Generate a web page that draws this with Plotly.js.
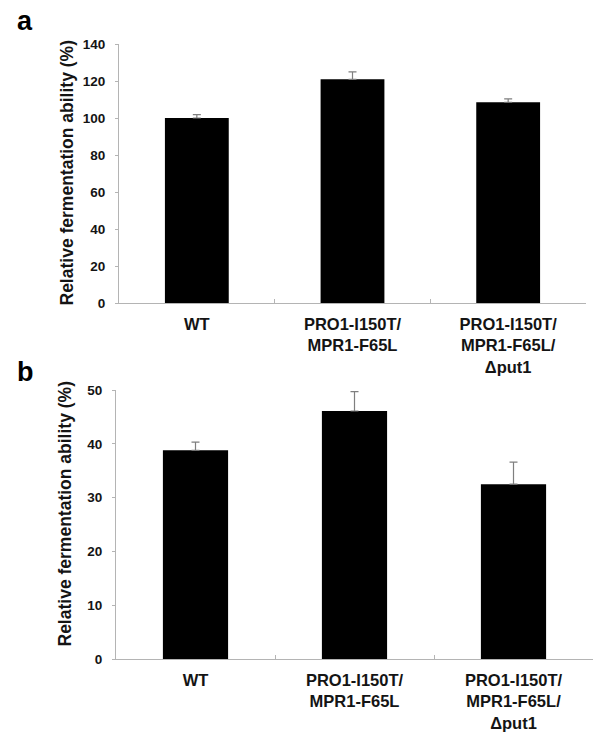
<!DOCTYPE html>
<html>
<head>
<meta charset="utf-8">
<script src="https://cdn.plot.ly/plotly-3.0.1.min.js"></script>
<style>
  html, body { margin: 0; padding: 0; background: #fff; }
  #chart { width: 600px; height: 743px; }
</style>
</head>
<body>
<div id="chart"></div>
<script>
(function () {
  'use strict';

  /* ---------- data ---------- */
  var categories = ['WT', 'PRO1-I150T/<br>MPR1-F65L', 'PRO1-I150T/<br>MPR1-F65L/<br>\u0394put1'];
  var valuesA = [100, 120.9, 108.5];
  var errorsA = [1.8, 4.0, 1.8];
  var valuesB = [38.8, 46.1, 32.5];
  var errorsB = [1.5, 3.6, 4.1];
  var ticksA = [0, 20, 40, 60, 80, 100, 120, 140];
  var ticksB = [0, 10, 20, 30, 40, 50];
  var yTitle = 'Relative fermentation ability (%)';
  var panels = ['a', 'b'];

  var FONT = 'Liberation Sans, Arial, sans-serif';
  var AXIS_GREY = '#b4b4b4';
  var TXT = '#141414';
  var zeros = categories.map(function () { return 0; });

  function barTrace(vals, errs, xa, ya) {
    return {
      type: 'bar', x: categories, y: vals, xaxis: xa, yaxis: ya,
      marker: { color: '#000000', line: { width: 0 } },
      error_y: { type: 'data', symmetric: false, array: errs, arrayminus: zeros,
                 color: '#7f7f7f', thickness: 1.2, width: 4 },
      hoverinfo: 'skip', showlegend: false
    };
  }
  function xAxis(domain, anchor) {
    return {
      domain: domain, anchor: anchor, type: 'category',
      showline: true, linecolor: AXIS_GREY, linewidth: 1,
      ticks: 'inside', tickson: 'boundaries', ticklen: 4, tickcolor: AXIS_GREY,
      tickfont: { family: FONT, size: 16.5, color: TXT, weight: 'bold' },
      ticklabelstandoff: 6, tickangle: 0,
      showgrid: false, zeroline: false, fixedrange: true
    };
  }
  function yAxis(domain, anchor, ticks) {
    return {
      domain: domain, anchor: anchor,
      range: [0, ticks[ticks.length - 1]], tickvals: ticks,
      showline: true, linecolor: AXIS_GREY, linewidth: 1,
      ticks: 'outside', ticklen: 3, tickcolor: AXIS_GREY, ticklabelstandoff: 7,
      tickfont: { family: FONT, size: 13.5, color: TXT, weight: 'bold' },
      showgrid: false, zeroline: false, fixedrange: true
    };
  }

  var annotations = [];
  [['x', 'y', 0], ['x2', 'y2', 10]].forEach(function (r) {
    annotations.push({
      xref: r[0] + ' domain', yref: r[1] + ' domain', x: 0, y: 0.5,
      xshift: -52, yshift: r[2], textangle: -90,
      xanchor: 'center', yanchor: 'middle',
      text: yTitle, showarrow: false,
      font: { family: FONT, size: 17.5, color: TXT, weight: 'bold' }
    });
  });

  [[panels[0], 1 - 21.5 / 743], [panels[1], 1 - 372 / 743]].forEach(function (p) {
    annotations.push({
      xref: 'paper', yref: 'paper', x: 15 / 600, y: p[1],
      xanchor: 'left', yanchor: 'middle', text: p[0], showarrow: false,
      font: { family: FONT, size: 27, color: '#000', weight: 'bold' }
    });
  });

  var layout = {
    width: 600, height: 743,
    margin: { l: 0, r: 0, t: 0, b: 0 },
    paper_bgcolor: '#ffffff', plot_bgcolor: '#ffffff',
    bargap: 0.59, showlegend: false,
    xaxis: xAxis([119 / 600, 586 / 600], 'y'),
    yaxis: yAxis([(743 - 303) / 743, (743 - 44) / 743], 'x', ticksA),
    xaxis2: xAxis([116 / 600, 593 / 600], 'y2'),
    yaxis2: yAxis([(743 - 659) / 743, (743 - 390) / 743], 'x2', ticksB),
    annotations: annotations
  };

  Plotly.newPlot('chart', [
    barTrace(valuesA, errorsA, 'x', 'y'),
    barTrace(valuesB, errorsB, 'x2', 'y2')
  ], layout, { displayModeBar: false, staticPlot: true });
})();
</script>
</body>
</html>
